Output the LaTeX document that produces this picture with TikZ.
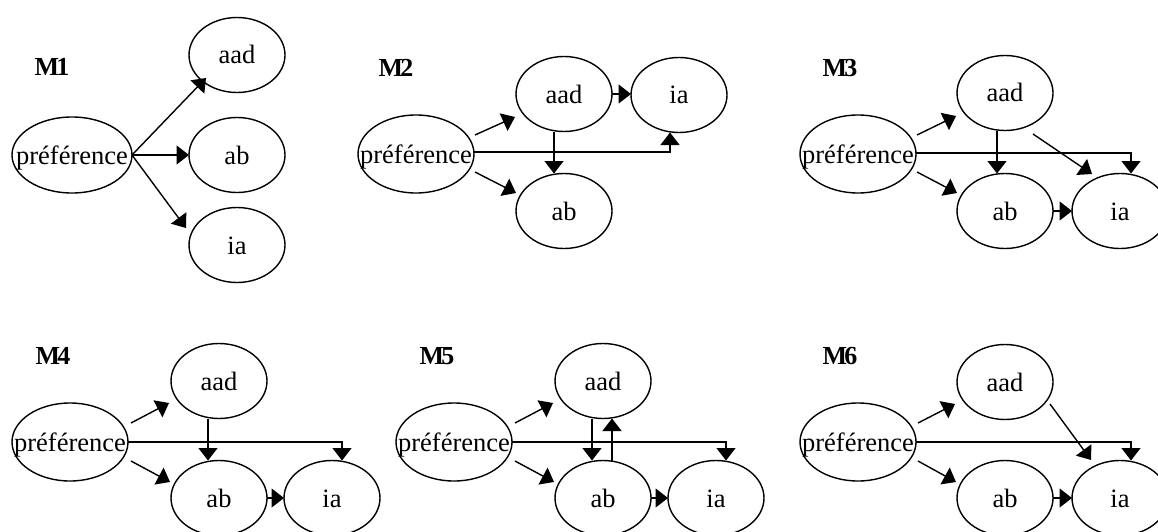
\documentclass[tikz,border=0pt]{standalone}
\usepackage{fontspec}
\setmainfont{Liberation Serif}
\usetikzlibrary{shapes.geometric,arrows.meta,calc}
\begin{document}
\begin{tikzpicture}[x=1pt,y=-1pt,
  every node/.style={inner sep=0pt,outer sep=0pt},
  elli/.style={ellipse,draw,line width=1.4pt,minimum width=96pt,minimum height=75pt,
    font=\fontsize{26.5pt}{30pt}\selectfont,text height=18pt,text depth=0pt},
  pref/.style={elli,minimum width=116pt,minimum height=78pt},
  lab/.style={font=\fontsize{26pt}{30pt}\selectfont\bfseries},
  arr/.style={line width=1.4pt,-{Triangle[length=12.5pt,width=19pt]}}]
\useasboundingbox (0,0) rectangle (1158,532);
\newcommand{\pt}{\makebox[0pt]{préférence}}
% ---------- M1
\node[lab] (L1) at (52,67) {M\kern-3pt1};
\node[pref,minimum width=120pt,minimum height=76pt] (p1) at (72,155) {\pt};
\node[elli] (a1) at (237,55) {aad};
\node[elli] (b1) at (237,155) {ab};
\node[elli] (i1) at (237,245) {ia};
\draw[arr] (p1.east) -- ($(a1)+(-31,23)$);
\draw[arr] (p1.east) -- (b1.west);
\draw[arr] (p1.east) -- ($(i1)+(-51,-17)$);
% ---------- M2
\node[lab] (L2) at (396,68) {M\kern-3pt2};
\node[pref] (p2) at (416,154) {\pt};
\node[elli] (a2) at (564,94) {aad};
\node[elli] (i2) at (679,95) {ia};
\node[elli] (b2) at (564,211) {ab};
\draw[arr] ($(p2)+(59,-19)$) -- ($(a2)+(-49,23)$);
\draw[arr] ($(p2)+(59,18)$) -- ($(b2)+(-48,-18)$);
\draw[arr] ([xshift=-10pt]a2.south) -- ([xshift=-10pt]b2.north);
\draw[arr] (a2.east) -- (a2.east -| i2.west);
\draw[arr] ([yshift=2pt]p2.east) -| ([xshift=-9pt]i2.south);
% ---------- M3
\node[lab] (L3) at (840,68) {M\kern-3pt3};
\node[pref] (p3) at (858,154) {\pt};
\node[elli] (a3) at (1005,93) {aad};
\node[elli] (b3) at (1005,211) {ab};
\node[elli] (i3) at (1120,211) {ia};
\draw[arr] ($(p3)+(59,-19)$) -- ($(a3)+(-49,23)$);
\draw[arr] ($(p3)+(59,18)$) -- ($(b3)+(-48,-18)$);
\draw[arr] ([xshift=-8pt]a3.south) -- ([xshift=-8pt]b3.north);
\draw[arr] ($(a3)+(28,41)$) -- ($(i3)+(-28,-37)$);
\draw[arr] ([yshift=1pt]p3.east) -| ([xshift=11pt]i3.north);
\draw[arr] (b3.east) -- (i3.west);
% ---------- M4
\node[lab] (L4) at (53,356) {M\kern-3pt4};
\node[pref] (p4) at (70,442) {\pt};
\node[elli] (a4) at (219,381) {aad};
\node[elli] (b4) at (219,498) {ab};
\node[elli] (i4) at (332,498) {ia};
\draw[arr] ($(p4)+(61,-19)$) -- ($(a4)+(-50,22)$);
\draw[arr] ($(p4)+(61,19)$) -- ($(b4)+(-49,-16)$);
\draw[arr] ([xshift=-11pt]a4.south) -- ([xshift=-11pt]b4.north);
\draw[arr] (p4.east) -| ([xshift=10pt]i4.north);
\draw[arr] (b4.east) -- (i4.west);
% ---------- M5
\node[lab] (L5) at (437,356) {M\kern-3pt5};
\node[pref] (p5) at (454,442) {\pt};
\node[elli] (a5) at (603,381) {aad};
\node[elli] (b5) at (603,498) {ab};
\node[elli] (i5) at (716,498) {ia};
\draw[arr] ($(p5)+(61,-19)$) -- ($(a5)+(-50,22)$);
\draw[arr] ($(p5)+(61,19)$) -- ($(b5)+(-49,-16)$);
\draw[arr] ([xshift=-11pt]a5.south) -- ([xshift=-11pt]b5.north);
\draw[arr] ([xshift=9pt]b5.north) -- ([xshift=9pt]a5.south);
\draw[arr] (p5.east) -| ([xshift=10pt]i5.north);
\draw[arr] (b5.east) -- (i5.west);
% ---------- M6
\node[lab] (L6) at (840,356) {M\kern-3pt6};
\node[pref] (p6) at (858,442) {\pt};
\node[elli] (a6) at (1005,382) {aad};
\node[elli] (b6) at (1005,498) {ab};
\node[elli] (i6) at (1120,498) {ia};
\draw[arr] ($(p6)+(60,-19)$) -- ($(a6)+(-50,22)$);
\draw[arr] ($(p6)+(60,19)$) -- ($(b6)+(-49,-16)$);
\draw[arr] ($(a6)+(45,22)$) -- ($(i6)+(-29,-38)$);
\draw[arr] (p6.east) -| ([xshift=11pt]i6.north);
\draw[arr] (b6.east) -- (i6.west);
\end{tikzpicture}
\end{document}
